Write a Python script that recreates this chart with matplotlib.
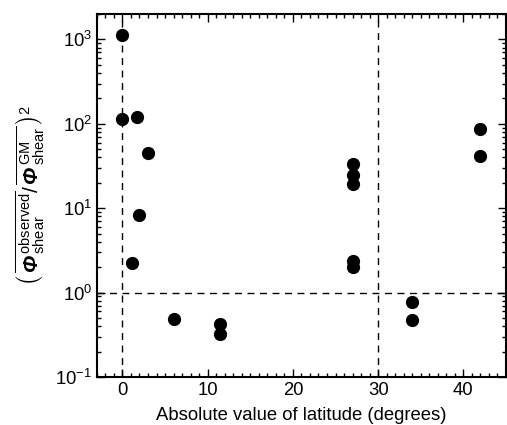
import numpy as np
import matplotlib
matplotlib.use("Agg")
import matplotlib.pyplot as plt
from matplotlib.ticker import LogLocator, MultipleLocator, NullFormatter

plt.rcParams['font.family'] = ['Liberation Sans', 'DejaVu Sans']
plt.rcParams['mathtext.fontset'] = 'custom'
plt.rcParams['mathtext.rm'] = 'Liberation Sans'
plt.rcParams['mathtext.it'] = 'Liberation Sans:italic'
plt.rcParams['mathtext.bf'] = 'Liberation Sans:italic:bold'
plt.rcParams['mathtext.default'] = 'regular'

# |latitude| (deg) and squared shear ratio
lat = [0, 0, 1.7, 3.0, 2.0, 1.1, 6.0, 11.4, 11.4,
       27, 27, 27, 27, 27, 34, 34, 42, 42]
ratio = [1120, 115, 120, 45, 8.4, 2.25, 0.49, 0.43, 0.32,
         33, 25, 19.5, 2.4, 2.0, 0.77, 0.47, 87, 42]

fig = plt.figure(figsize=(5.07, 4.25), dpi=100)
ax = fig.add_axes([0.191, 0.113, 0.807, 0.854])

ax.axvline(0, color='black', lw=1, ls=(0, (5, 4)), zorder=1)
ax.axvline(30, color='black', lw=1, ls=(0, (5, 4)), zorder=1)
ax.axhline(1, color='black', lw=1, ls=(0, (5, 4)), zorder=1)
ax.plot(lat, ratio, 'o', color='black', ms=8.5, zorder=3)

ax.set_yscale('log')
ax.set_xlim(-3, 45)
ax.set_ylim(0.1, 2000)
ax.xaxis.set_major_locator(MultipleLocator(10))
ax.xaxis.set_minor_locator(MultipleLocator(1))
ax.yaxis.set_major_locator(LogLocator(base=10, numticks=10))
ax.yaxis.set_minor_locator(LogLocator(base=10, subs=np.arange(2, 10), numticks=10))
ax.yaxis.set_minor_formatter(NullFormatter())
ax.tick_params(which='both', direction='in', top=True, right=True, width=1, labelsize=13.3)
ax.tick_params(which='major', length=6)
ax.tick_params(which='minor', length=3)
for s in ax.spines.values():
    s.set_linewidth(1.5)

ax.set_xlabel('Absolute value of latitude (degrees)', fontsize=13.3, labelpad=6)
ax.set_ylabel(r'$\left(\,\overline{\mathbf{\Phi}^{\,\mathrm{observed}}_{\,\mathrm{shear}}}'
              r'/\,\overline{\mathbf{\Phi}^{\,\mathrm{GM}}_{\,\mathrm{shear}}}\,\right)^{2}$',
              fontsize=15, labelpad=6)

fig.savefig('out.png', dpi=100)
